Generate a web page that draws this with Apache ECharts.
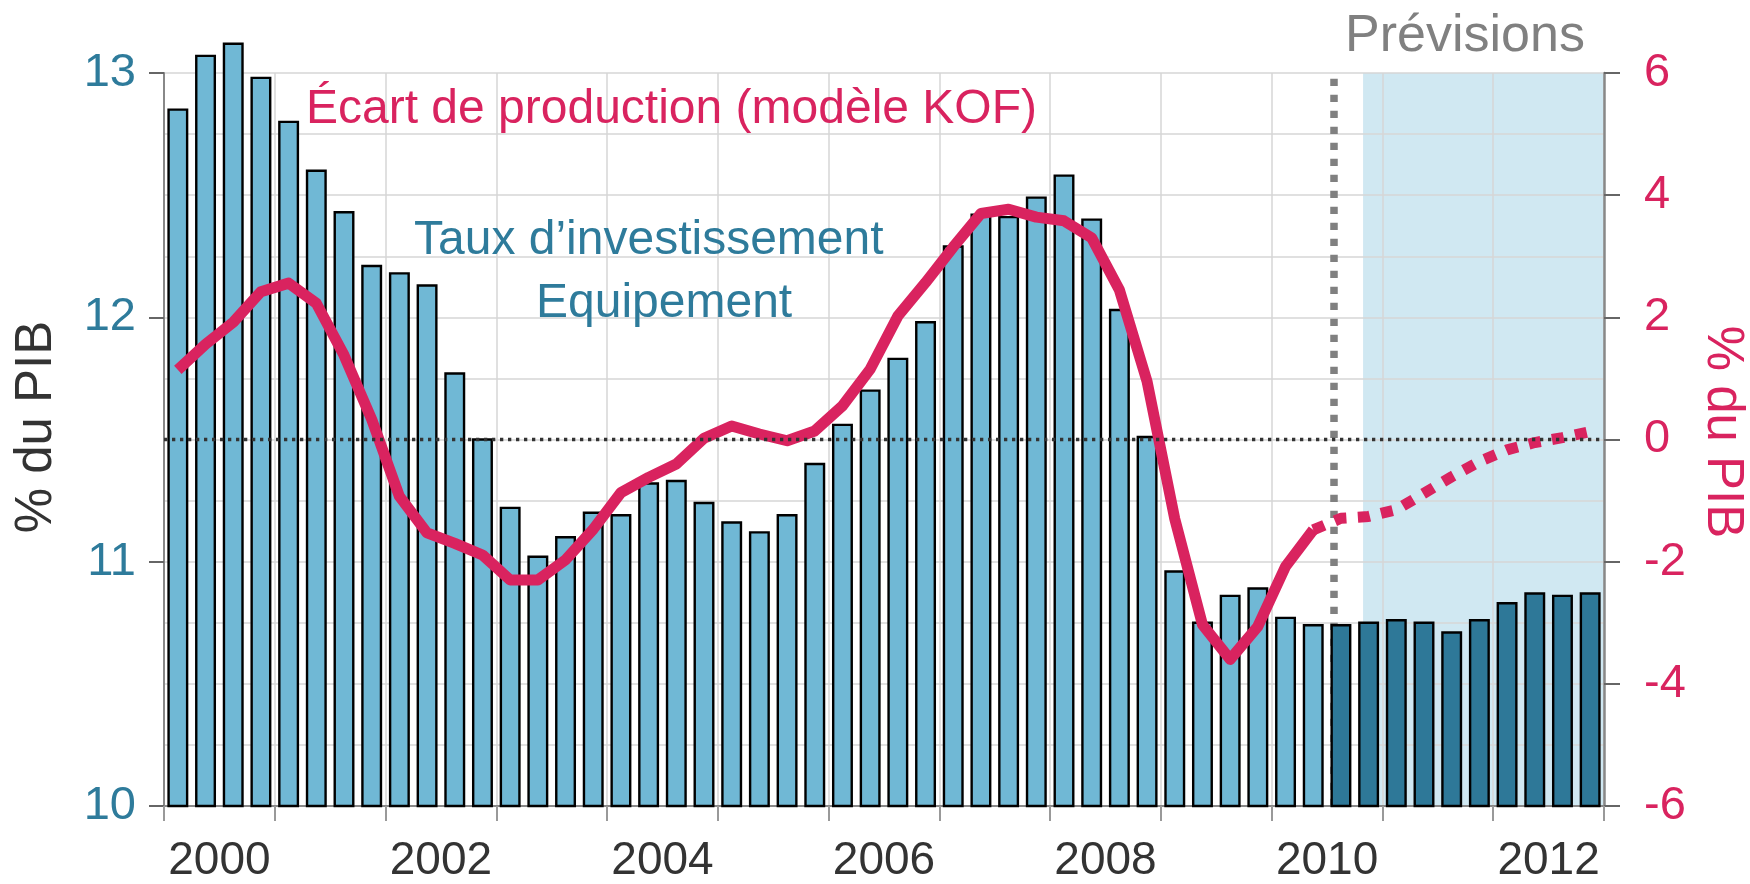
<!DOCTYPE html>
<html>
<head>
<meta charset="utf-8">
<title>Taux d'investissement équipement et écart de production</title>
<script src="https://cdn.jsdelivr.net/npm/echarts@6/dist/echarts.min.js"></script>
<style>
  html, body { margin: 0; padding: 0; background: #fff; }
  #chart { width: 1750px; height: 884px; }
</style>
</head>
<body>
<div id="chart"></div>
<script>
// années, étiquettes de l'axe x (une sur deux affichée)
const years = ["2000", "2001", "2002", "2003", "2004", "2005", "2006",
               "2007", "2008", "2009", "2010", "2011", "2012"];
const quarters = years.flatMap(y => ["T1", "T2", "T3", "T4"].map(q => y + " " + q));

// taux d'investissement équipement, % du PIB (barres, axe de gauche)
const investRate = [
  12.85, 13.07, 13.12, 12.98, 12.80, 12.60, 12.43, 12.21,
  12.18, 12.13, 11.77, 11.50, 11.22, 11.02, 11.10, 11.20,
  11.19, 11.32, 11.33, 11.24, 11.16, 11.12, 11.19, 11.40,
  11.56, 11.70, 11.83, 11.98, 12.29, 12.42, 12.41, 12.49,
  12.58, 12.40, 12.03, 11.51, 10.96, 10.75, 10.86, 10.89,
  10.77, 10.74, 10.74, 10.75, 10.76, 10.75, 10.71, 10.76,
  10.83, 10.87, 10.86, 10.87
];

// écart de production (modèle KOF), % du PIB (courbe, axe de droite)
const outputGap = [
   1.14,  1.56,  1.92,  2.42,  2.56,  2.23,  1.38,  0.33,
  -0.93, -1.53, -1.70, -1.89, -2.30, -2.30, -1.97, -1.47,
  -0.87, -0.62, -0.40,  0.02,  0.22,  0.09, -0.02,  0.14,
   0.55,  1.15,  2.02,  2.57,  3.15,  3.70,  3.77,  3.64,
   3.58,  3.30,  2.45,  0.95, -1.30, -3.03, -3.60, -3.06,
  -2.08, -1.48, -1.29, -1.26, -1.15, -0.88, -0.61, -0.36,
  -0.17, -0.05,  0.03,  0.13
];

// prévisions
const forecastBarFrom = 42;   // premier trimestre en barre foncée
const forecastGapFrom = 41;   // la courbe devient pointillée
const forecastLineAt = 42.25; // trait vertical gris (en trimestres)
const shadeFrom = 43.3;       // début de la zone bleutée (en trimestres)

const FONT = '"Liberation Sans", Arial, Helvetica, sans-serif';
const TEAL = "#2E7B9B";
const CRIMSON = "#D9235F";
const LIGHT_BAR = "#70B8D5";
const DARK_BAR = "#2E7898";
const SHADE = "#D0E8F2";
const GRID = "#d6d6d6";
const LEFT_MIN = 10;

const chart = echarts.init(document.getElementById("chart"));

// barres dessinées depuis le bas de l'axe (10), sans rognage en haut
function renderBar(params, api) {
  const i = api.value(0);
  const top = api.coord([i, api.value(1)]);
  const base = api.coord([i, LEFT_MIN]);
  const w = api.size([1, 0])[0] * 0.67;
  return {
    type: "rect",
    shape: { x: top[0] - w / 2, y: top[1], width: w, height: base[1] - top[1] },
    style: {
      fill: i >= forecastBarFrom ? DARK_BAR : LIGHT_BAR,
      stroke: "#000",
      lineWidth: 2.4
    }
  };
}

const option = {
  animation: false,
  backgroundColor: "#fff",
  grid: { left: 164, right: 146, top: 73, bottom: 77, containLabel: false },
  xAxis: [
    {
      // axe des années : graduations, lignes verticales, étiquettes
      type: "category",
      data: years,
      position: "bottom",
      z: 1,
      axisLine: { show: true, onZero: false, lineStyle: { color: "#888", width: 2 } },
      axisTick: { show: true, interval: 0, length: 15, lineStyle: { color: "#999", width: 2 } },
      axisLabel: { interval: 1, fontSize: 46, color: "#333", fontFamily: FONT, margin: 32 },
      splitLine: { show: true, interval: 0, lineStyle: { color: GRID, width: 1.5 } }
    },
    {
      // trimestres (barres et courbe)
      type: "category",
      data: quarters,
      position: "bottom",
      show: false,
      axisLine: { onZero: false }
    },
    {
      // trimestres en valeur continue (zone de prévision)
      type: "value",
      min: 0,
      max: quarters.length,
      position: "bottom",
      show: false,
      axisLine: { onZero: false }
    }
  ],
  yAxis: [
    {
      type: "value",
      min: LEFT_MIN,
      max: 13,
      interval: 1,
      position: "left",
      z: 1,
      axisLine: { show: true, lineStyle: { color: "#888", width: 2 } },
      axisTick: { show: true, length: 15, lineStyle: { color: "#666", width: 2 } },
      axisLabel: { fontSize: 47, color: TEAL, fontFamily: FONT, margin: 28 },
      splitLine: { show: false }
    },
    {
      type: "value",
      min: -6,
      max: 6,
      interval: 2,
      position: "right",
      z: 1,
      axisLine: { show: true, lineStyle: { color: "#888", width: 2.5 } },
      axisTick: { show: true, length: 16, lineStyle: { color: "#666", width: 2 } },
      axisLabel: { fontSize: 47, color: CRIMSON, fontFamily: FONT, margin: 40 },
      splitLine: { show: true, lineStyle: { color: GRID, width: 1.5 } },
      minorTick: { show: false, splitNumber: 2 },
      minorSplitLine: { show: true, lineStyle: { color: GRID, width: 1.5 } }
    }
  ],
  series: [
    {
      // zone de prévision + trait vertical gris, derrière les barres
      type: "line",
      xAxisIndex: 2,
      yAxisIndex: 1,
      data: [],
      silent: true,
      z: 0,
      markArea: {
        silent: true,
        z: 0,
        itemStyle: { color: SHADE },
        data: [[{ xAxis: shadeFrom }, { xAxis: quarters.length }]]
      },
      markLine: {
        silent: true,
        z: 1,
        symbol: "none",
        label: { show: false },
        lineStyle: { color: "#808080", width: 7.5, type: [7.3, 8.7] },
        data: [{ xAxis: forecastLineAt }]
      }
    },
    {
      name: "Taux d’investissement Equipement",
      type: "custom",
      xAxisIndex: 1,
      yAxisIndex: 0,
      clip: false, // les barres au-dessus de 13 dépassent du cadre
      z: 2,
      renderItem: renderBar,
      data: investRate.map((v, i) => [i, v])
    },
    {
      name: "Écart de production",
      type: "line",
      xAxisIndex: 1,
      yAxisIndex: 1,
      symbol: "none",
      z: 4,
      lineStyle: { color: CRIMSON, width: 11, join: "round" },
      data: outputGap.map((v, i) => (i <= forecastGapFrom ? v : "-"))
    },
    {
      name: "Écart de production (prévision)",
      type: "line",
      xAxisIndex: 1,
      yAxisIndex: 1,
      symbol: "none",
      z: 4,
      lineStyle: { color: CRIMSON, width: 11, type: [12, 11.5], cap: "butt" },
      data: outputGap.map((v, i) => (i >= forecastGapFrom ? v : "-"))
    },
    {
      // ligne du zéro, pointillés noirs par-dessus
      type: "line",
      xAxisIndex: 2,
      yAxisIndex: 1,
      data: [],
      silent: true,
      z: 5,
      markLine: {
        silent: true,
        z: 5,
        symbol: "none",
        label: { show: false },
        lineStyle: { color: "#333", width: 3.3, type: [3.3, 4.7] },
        data: [{ yAxis: 0 }]
      }
    }
  ],
  graphic: [
    {
      type: "text", x: 306, y: 109.5, z: 10,
      style: { text: "Écart de production (modèle KOF)", fill: CRIMSON, font: "48px " + FONT,
               align: "left", verticalAlign: "middle", textAlign: "left", textVerticalAlign: "middle" }
    },
    {
      type: "text", x: 414, y: 240.5, z: 10,
      style: { text: "Taux d’investissement", fill: TEAL, font: "48px " + FONT,
               align: "left", verticalAlign: "middle", textAlign: "left", textVerticalAlign: "middle" }
    },
    {
      type: "text", x: 536, y: 303.5, z: 10,
      style: { text: "Equipement", fill: TEAL, font: "48px " + FONT,
               align: "left", verticalAlign: "middle", textAlign: "left", textVerticalAlign: "middle" }
    },
    {
      type: "text", x: 1465, y: 37, z: 10,
      style: { text: "Prévisions", fill: "#808080", font: "52px " + FONT,
               align: "center", verticalAlign: "middle", textAlign: "center", textVerticalAlign: "middle" }
    },
    {
      // titre axe de gauche
      type: "text", x: 37, y: 427, rotation: Math.PI / 2, z: 10,
      style: { text: "% du PIB", fill: "#333", font: "51px " + FONT,
               align: "center", verticalAlign: "middle", textAlign: "center", textVerticalAlign: "middle" }
    },
    {
      // titre axe de droite
      type: "text", x: 1722, y: 432, rotation: -Math.PI / 2, z: 10,
      style: { text: "% du PIB", fill: CRIMSON, font: "51px " + FONT,
               align: "center", verticalAlign: "middle", textAlign: "center", textVerticalAlign: "middle" }
    }
  ]
};

chart.setOption(option);
</script>
</body>
</html>
